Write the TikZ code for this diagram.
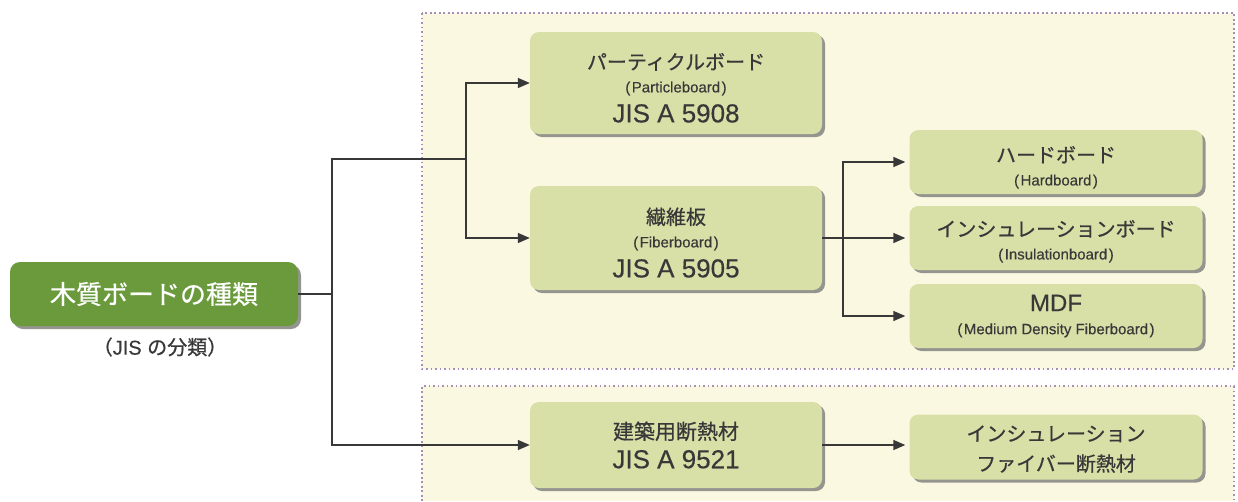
\documentclass[tikz,border=0pt]{standalone}
\usepackage{fontspec}
\setmainfont{Liberation Sans}[FakeBold=0.3]
\newfontfamily\jp{Noto Sans CJK JP}[FakeBold=0.6]
\usetikzlibrary{arrows.meta,shadows}
\definecolor{boxgreen}{HTML}{D8DFA7}
\definecolor{darkgreen}{HTML}{6A9A3C}
\definecolor{panel}{HTML}{FBF8E2}
\definecolor{dotline}{HTML}{A68FB4}
\definecolor{ink}{HTML}{383838}
\definecolor{shade}{HTML}{959590}
\tikzset{
  gbox/.style={rectangle, rounded corners=9pt, fill=boxgreen, text=ink, align=center,
    inner sep=0pt, font=\fontsize{20}{24}\selectfont,
    drop shadow={shadow xshift=3pt, shadow yshift=-3pt, fill=shade, opacity=1}},
  leftbox/.style={gbox, minimum width=292pt},
  rightbox/.style={gbox, minimum width=293pt},
  mainbox/.style={rectangle, rounded corners=10pt, fill=darkgreen, text=white,
    minimum width=288pt, minimum height=64pt, inner sep=0pt,
    font=\jp\fontsize{26}{30}\selectfont,
    drop shadow={shadow xshift=3pt, shadow yshift=-3pt, fill=shade, opacity=1}},
  conn/.style={draw=ink, line width=1.5pt},
  arr/.style={conn, -{Triangle[length=12pt,width=10pt]}},
  panelline/.style={draw=dotline, line width=1.8pt, dash pattern=on 1.8pt off 2.7pt},
}
\newcommand{\tjp}[1]{{\jp\fontsize{20}{24}\selectfont #1}}
\newcommand{\tsub}[1]{{\fontsize{15}{18}\selectfont (\kern1.5pt#1\kern1.5pt)}}
\newcommand{\tjis}[1]{{\fontsize{26}{30}\selectfont #1}}
\newcommand{\lift}[1]{\rule{0pt}{#1}}
\begin{document}
\begin{tikzpicture}[x=1pt,y=-1pt]
\useasboundingbox (0,0) rectangle (1238,501);
\fill[white] (0,0) rectangle (1238,501);
% panels
\fill[panel] (422,13) rectangle (1234,369);
\draw[panelline] (422,13) rectangle (1234,369);
\fill[panel] (422,386) rectangle (1234,501);
\draw[panelline] (422,501) -- (422,386) -- (1234,386) -- (1234,501);

% nodes
\node[mainbox] (main) at (154,294) {木質ボードの種類};
\node[text=ink, font=\fontsize{20}{24}\selectfont] (note) at (160,347) {{\jp （}JIS {\jp の分類）}};

\node[leftbox, minimum height=102pt] (part) at (676,83)
  {\lift{26pt}\tjp{パーティクルボード}\\[-1pt]\tsub{Particleboard}\\[6pt]\tjis{JIS A 5908}};
\node[leftbox, minimum height=104pt] (fiber) at (676,238)
  {\lift{26pt}\tjp{繊維板}\\[-1pt]\tsub{Fiberboard}\\[6pt]\tjis{JIS A 5905}};
\node[rightbox, minimum height=64pt] (hard) at (1056,162)
  {\lift{27pt}\tjp{ハードボード}\\[-1pt]\tsub{Hardboard}};
\node[rightbox, minimum height=64pt] (insul) at (1056,238)
  {\lift{23pt}\tjp{インシュレーションボード}\\[-1pt]\tsub{Insulationboard}};
\node[rightbox, minimum height=64pt] (mdf) at (1056,316)
  {{\fontsize{24}{24}\selectfont MDF}\\[-1pt]\tsub{Medium Density Fiberboard}};
\node[leftbox, minimum height=86pt] (kenchiku) at (676,445)
  {{\jp\fontsize{21}{24}\selectfont 建築用断熱材}\\[5pt]\tjis{JIS A 9521}};
\node[rightbox, minimum height=65pt] (insfiber) at (1056,447)
  {\lift{20pt}\tjp{インシュレーション}\\[6pt]\tjp{ファイバー断熱材}};

% junctions
\coordinate (j1) at (332,159);
\coordinate (j2) at (466,159);
\coordinate (j3) at (843,238);

% connectors
\draw[conn] (main.east) -| (j1) -- (j2);
\draw[arr] (j1) |- (kenchiku.west);
\draw[arr] (j2) |- (part.west);
\draw[arr] (j2) |- (fiber.west);
\draw[arr, shorten >=4pt] (fiber.east) -- (insul.west);
\draw[arr, shorten >=4pt] (j3) |- (hard.west);
\draw[arr, shorten >=4pt] (j3) |- (mdf.west);
\draw[arr, shorten >=4pt] (kenchiku.east) -- (kenchiku.east -| insfiber.west);
\end{tikzpicture}
\end{document}
